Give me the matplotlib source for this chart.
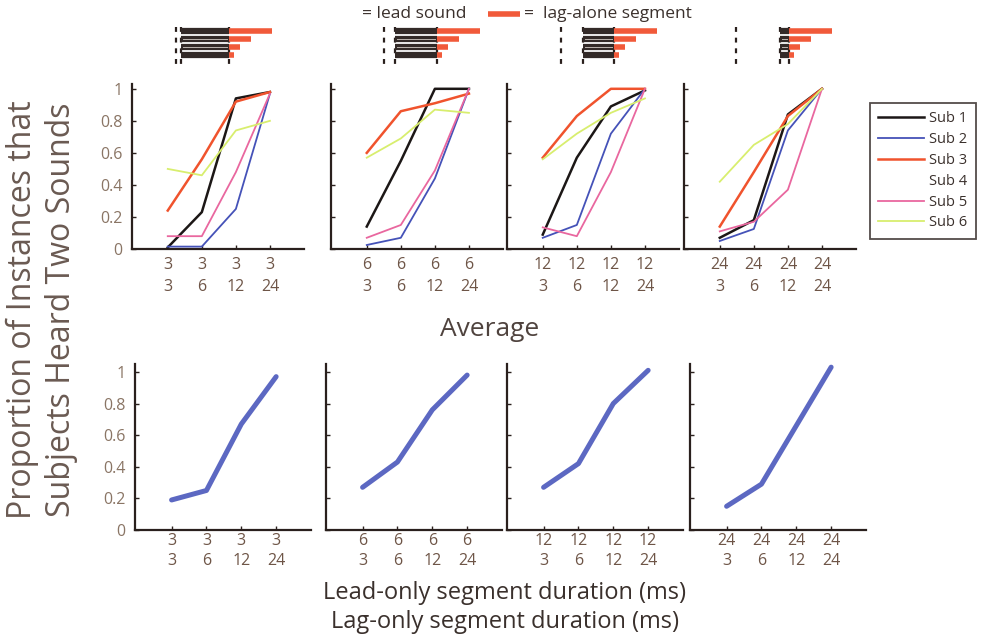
"""Two-sound judgments per subject and group average, by lead/lag segment duration."""
import matplotlib
matplotlib.use("Agg")
import matplotlib.pyplot as plt
from matplotlib.lines import Line2D

plt.rcParams["font.family"] = ["Open Sans", "DejaVu Sans"]

W, H = 983, 642

# ---- data -------------------------------------------------------------
lead_ms = [3, 6, 12, 24]          # lead-only segment, one panel each
lag_ms = [3, 6, 12, 24]           # lag-only segment, x positions
lead_total_ms = 29                # full lead sound in the schematics

subjects = ["Sub 1", "Sub 2", "Sub 3", "Sub 4", "Sub 5", "Sub 6"]
sub1 = [[0.01, 0.23, 0.94, 0.98], [0.14, 0.55, 1.00, 1.00],
        [0.09, 0.57, 0.89, 0.99], [0.07, 0.18, 0.84, 1.00]]
sub2 = [[0.015, 0.015, 0.25, 0.97], [0.025, 0.07, 0.44, 1.00],
        [0.07, 0.15, 0.72, 1.00], [0.05, 0.125, 0.74, 1.00]]
sub3 = [[0.24, 0.56, 0.92, 0.98], [0.60, 0.86, 0.91, 0.97],
        [0.57, 0.83, 1.00, 1.00], [0.14, 0.48, 0.83, 1.00]]
sub4 = [[0.05, 0.12, 0.48, 0.95], [0.06, 0.30, 0.87, 0.98],
        [0.05, 0.20, 0.72, 0.97], [0.03, 0.12, 0.60, 0.98]]
sub5 = [[0.08, 0.08, 0.48, 0.97], [0.07, 0.15, 0.49, 1.00],
        [0.135, 0.08, 0.48, 1.00], [0.11, 0.17, 0.37, 1.00]]
sub6 = [[0.50, 0.46, 0.74, 0.80], [0.57, 0.69, 0.87, 0.85],
        [0.56, 0.72, 0.85, 0.94], [0.42, 0.65, 0.78, 1.00]]
average = [[0.19, 0.25, 0.67, 0.97], [0.27, 0.43, 0.76, 0.98],
           [0.27, 0.42, 0.80, 1.01], [0.15, 0.29, 0.66, 1.03]]

sub_data = [sub1, sub2, sub3, sub4, sub5, sub6]
sub_colors = ["#1c1716", "#4552b8", "#f0532d", "#ffffff", "#e9679f", "#d8ee6e"]
sub_lw = [1.8, 1.3, 1.8, 1.3, 1.3, 1.3]

DARK = "#2a201d"
TICK_CLR = "#8a7565"
XTICK_CLR = "#6e5547"
TEXT_CLR = "#4f433e"
ORANGE = "#f15a3a"
AVG_BLUE = "#5c68c2"


def px_rect(left, top, width, height):
    return [left / W, 1 - (top + height) / H, width / W, height / H]


def style_axes(ax, first, xpad, lsp):
    for side in ("top", "right"):
        ax.spines[side].set_visible(False)
    for side in ("left", "bottom"):
        ax.spines[side].set_color(DARK)
        ax.spines[side].set_linewidth(1.6)
    ax.set_xlim(-0.05, 5.0)
    ax.set_yticks([0, 0.2, 0.4, 0.6, 0.8, 1.0])
    if first:
        ax.set_yticklabels(["0", "0.2", "0.4", "0.6", "0.8", "1"])
    else:
        ax.set_yticklabels([])
    ax.tick_params(axis="both", direction="in", length=3, width=1, color=DARK)
    ax.tick_params(axis="y", labelsize=11.5, labelcolor=TICK_CLR, pad=7)
    ax.tick_params(axis="x", labelsize=11.5, labelcolor=XTICK_CLR, pad=xpad)
    for lab in ax.get_xticklabels():
        lab.set_linespacing(lsp)


fig = plt.figure(figsize=(W / 100, H / 100), dpi=100)

# ---- per-subject panels ------------------------------------------------
top_lefts = [132, 331, 507, 684]
xs = [1, 2, 3, 4]
for p, lead in enumerate(lead_ms):
    ax = fig.add_axes(px_rect(top_lefts[p], 84, 172, 165))
    for s in range(len(subjects)):
        ax.plot(xs, sub_data[s][p], color=sub_colors[s], lw=sub_lw[s],
                zorder=1 if s == 3 else 3, clip_on=False)
    ax.set_ylim(0, 1.03)
    ax.set_xticks(xs)
    ax.set_xticklabels([f"{lead}\n{lag}" for lag in lag_ms])
    style_axes(ax, p == 0, 6, 1.5)

handles = [Line2D([0], [0], color=c, lw=lw) for c, lw in zip(sub_colors, sub_lw)]
leg = fig.legend(handles, subjects, loc="upper left",
                 bbox_to_anchor=(863 / W, 1 - 96 / H), fontsize=10.5,
                 handlelength=3.1, handletextpad=0.4, labelspacing=0.4,
                 borderpad=0.55, fancybox=False, labelcolor="#3a302c")
leg.get_frame().set_edgecolor(DARK)
leg.get_frame().set_linewidth(1.3)

# ---- average panels ----------------------------------------------------
bot_lefts = [135, 326, 507, 690]
for p, lead in enumerate(lead_ms):
    ax = fig.add_axes(px_rect(bot_lefts[p], 364, 176, 166))
    ax.plot(xs, average[p], color=AVG_BLUE, lw=3.6, solid_capstyle="round",
            clip_on=False)
    ax.set_ylim(0, 1.05)
    ax.set_xticks(xs)
    ax.set_xticklabels([f"{lead}\n{lag}" for lag in lag_ms])
    style_axes(ax, p == 0, 2, 1.35)

# ---- labels -------------------------------------------------------------
fig.text(490 / W, 1 - 330 / H, "Average", fontsize=19, color=TEXT_CLR,
         ha="center", va="center")
fig.text(42 / W, 1 - 310 / H,
         "Proportion of Instances that\nSubjects Heard Two Sounds",
         rotation=90, fontsize=23, color="#6a5a52", ha="center",
         va="center", linespacing=1.22)
fig.text(505 / W, 1 - 593 / H, "Lead-only segment duration (ms)",
         fontsize=17, color="#3a302c", ha="center", va="center")
fig.text(505 / W, 1 - 622 / H, "Lag-only segment duration (ms)",
         fontsize=17, color="#3a302c", ha="center", va="center")

# ---- stimulus schematics above each panel ------------------------------
ov = fig.add_axes([0, 0, 1, 1], zorder=-1)
ov.set_xlim(0, W)
ov.set_ylim(H, 0)
ov.axis("off")

ov.text(362, 14, "= lead sound", fontsize=12.5, color="#3a302c", va="center")
ov.plot([488, 520], [14, 14], color=ORANGE, lw=4, solid_capstyle="butt")
ov.text(524, 14, "=  lag-alone segment", fontsize=12.5, color="#3a302c",
        va="center")

icon_x0 = [176, 384, 561, 736]
px_per_ms = 1.82
row_y = [31, 39, 47, 55]
for p, lead in enumerate(lead_ms):
    x0 = icon_x0[p]
    x_lag = x0 + lead * px_per_ms
    x_end = x0 + lead_total_ms * px_per_ms
    for xv in (x0, x_lag, x_end):
        ov.plot([xv, xv], [27, 68], color=DARK, lw=1.6,
                linestyle=(0, (2.2, 2.6)))
    for r, lag in enumerate(sorted(lag_ms, reverse=True)):
        y = row_y[r]
        ov.plot([x_lag, x_end], [y, y], color="#332a28", lw=4.5,
                solid_capstyle="butt")
        if r in (1, 2):
            ov.plot([x_lag + 2, x_end - 2], [y, y], color="#bdb5b0", lw=0.7)
        ov.plot([x_end, x_end + lag * px_per_ms], [y, y], color=ORANGE,
                lw=4, solid_capstyle="butt")

fig.savefig("out.png", dpi=100)
